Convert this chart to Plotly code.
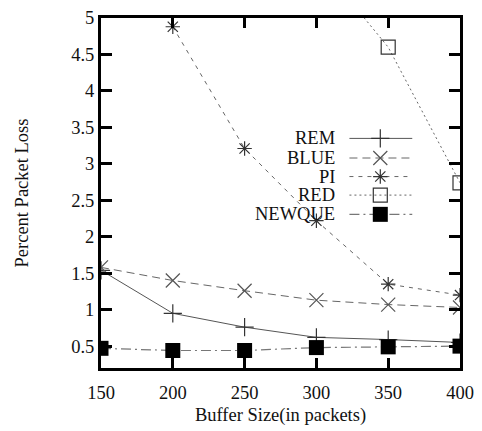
import plotly.graph_objects as go

buffer_sizes = [150, 200, 250, 300, 350, 400]
rem = [1.54, 0.95, 0.76, 0.62, 0.59, 0.55]
blue = [1.58, 1.40, 1.26, 1.13, 1.07, 1.03]
pi = [None, 4.88, 3.21, 2.22, 1.35, 1.20]
red = [None, None, None, 5.8, 4.60, 2.74]
newque = [0.47, 0.44, 0.44, 0.48, 0.49, 0.50]
x_ticks = [150, 200, 250, 300, 350, 400]
y_ticks = [0.5, 1, 1.5, 2, 2.5, 3, 3.5, 4, 4.5, 5]
y_tick_text = ["0.5", "1", "1.5", "2", "2.5", "3", "3.5", "4", "4.5", "5"]

series = [
    ("REM", rem, dict(color="#555", width=1, dash="solid"),
     dict(symbol="cross-thin", size=13, line=dict(color="#333", width=1.2), color="#333")),
    ("BLUE", blue, dict(color="#666", width=1, dash="8px,5px"),
     dict(symbol="x-thin", size=14, line=dict(color="#555", width=1.2), color="#555")),
    ("PI", pi, dict(color="#666", width=1, dash="4px,5px"),
     dict(symbol="asterisk-open", size=12, line=dict(color="#333", width=1.2), color="#333")),
    ("RED", red, dict(color="#666", width=1, dash="2px,3px"),
     dict(symbol="square-open", size=14, line=dict(color="#333", width=1.2), color="#333")),
    ("NEWQUE", newque, dict(color="#777", width=1.2, dash="10px,4px,2px,4px"),
     dict(symbol="square", size=15, line=dict(color="black", width=0), color="black")),
]

fig = go.Figure()
for name, vals, ln, mk in series:
    fig.add_trace(go.Scatter(x=buffer_sizes, y=vals, mode="lines+markers", name=name,
                             line=ln, marker=mk, showlegend=False, connectgaps=False))

# custom legend (text to the left of the sample, gnuplot style)
leg_y = [0.656, 0.600, 0.547, 0.494, 0.439]
for (name, vals, ln, mk), yy in zip(series, leg_y):
    fig.add_trace(go.Scatter(x=[0.692, 0.867], y=[yy, yy], mode="lines", line=ln,
                             xaxis="x2", yaxis="y2", showlegend=False, hoverinfo="skip"))
    fig.add_trace(go.Scatter(x=[0.778], y=[yy], mode="markers", marker=mk,
                             xaxis="x2", yaxis="y2", showlegend=False, hoverinfo="skip"))
    fig.add_annotation(x=0.658, y=yy, xref="x2", yref="y2", text=name, showarrow=False,
                       xanchor="right", yanchor="middle",
                       font=dict(family="Liberation Serif", size=18.5, color="#111"))

axis_font = dict(family="Liberation Serif", size=18.5, color="#111")
fig.update_layout(
    width=482, height=431,
    margin=dict(l=101, r=21, t=8, b=63),
    paper_bgcolor="white", plot_bgcolor="white",
    font=axis_font,
    xaxis=dict(range=[150, 400], tickvals=x_ticks, ticktext=[str(v) for v in x_ticks],
               ticks="inside", ticklen=10, tickwidth=3, tickcolor="black",
               showline=True, linewidth=3, linecolor="black", mirror="ticks",
               showgrid=False, zeroline=False, ticklabelstandoff=6,
               title=dict(text="Buffer Size(in packets)", font=axis_font, standoff=6),
               tickfont=axis_font),
    yaxis=dict(range=[0.2, 5], tickvals=y_ticks, ticktext=y_tick_text,
               ticks="inside", ticklen=11, tickwidth=3, tickcolor="black",
               showline=True, linewidth=3, linecolor="black", mirror="ticks",
               showgrid=False, zeroline=False,
               title=dict(text="Percent Packet Loss", font=axis_font, standoff=38),
               tickfont=axis_font),
    xaxis2=dict(range=[0, 1], overlaying="x", visible=False, fixedrange=True),
    yaxis2=dict(range=[0, 1], overlaying="y", visible=False, fixedrange=True),
)

fig.write_html("out.html")
